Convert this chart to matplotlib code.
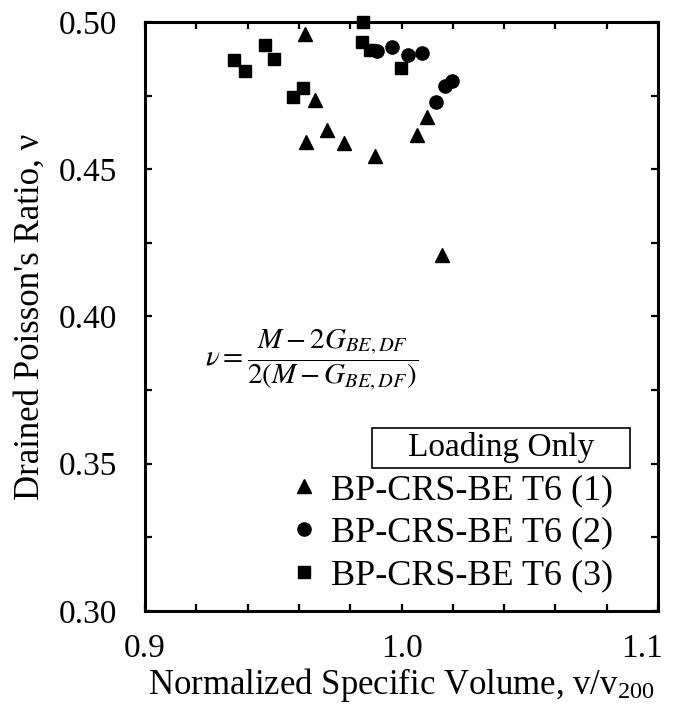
import matplotlib
matplotlib.use("Agg")
import matplotlib.pyplot as plt
from matplotlib.ticker import MultipleLocator
from matplotlib.patches import Rectangle
from matplotlib.transforms import ScaledTranslation

plt.rcParams["font.family"] = ["Liberation Serif", "DejaVu Serif"]
plt.rcParams["mathtext.fontset"] = "stix"

# Series (1): triangles
vol_1 = [0.9624, 0.9663, 0.9628, 0.9710, 0.9776, 0.9897, 1.0060, 1.0100, 1.0158]
nu_1 = [0.4959, 0.4735, 0.4593, 0.4633, 0.4589, 0.4545, 0.4616, 0.4677, 0.4209]

# Series (2): circles
vol_2 = [0.9904, 0.9963, 1.0025, 1.0080, 1.0134, 1.0170, 1.0197]
nu_2 = [0.4902, 0.4915, 0.4888, 0.4895, 0.4728, 0.4783, 0.4800]

# Series (3): squares
vol_3 = [0.9850, 0.9846, 0.9877, 0.9998, 0.9347, 0.9390, 0.9468, 0.9503, 0.9616, 0.9577]
nu_3 = [0.5000, 0.4932, 0.4905, 0.4844, 0.4871, 0.4834, 0.4922, 0.4874, 0.4776, 0.4745]

labels = ["BP-CRS-BE T6 (1)", "BP-CRS-BE T6 (2)", "BP-CRS-BE T6 (3)"]
xticks = [0.9, 1.0, 1.1]
xticklabels = ["0.9", "1.0", "1.1"]

fig = plt.figure(figsize=(6.77, 7.15), dpi=100)
ax = fig.add_axes([0.2142, 0.1455, 0.7578, 0.8237])

ax.plot(vol_1, nu_1, ls="none", marker="^", ms=10, color="black", label=labels[0], clip_on=False)
ax.plot(vol_2, nu_2, ls="none", marker="o", ms=9.5, color="black", label=labels[1], clip_on=False)
ax.plot(vol_3, nu_3, ls="none", marker="s", ms=9, color="black", label=labels[2], clip_on=False)

ax.set_xlim(0.9, 1.1)
ax.set_ylim(0.30, 0.50)
ax.set_xticks(xticks, xticklabels)
ax.xaxis.set_minor_locator(MultipleLocator(0.02))
ax.yaxis.set_major_locator(MultipleLocator(0.05))
ax.yaxis.set_minor_locator(MultipleLocator(0.025))
ax.yaxis.set_major_formatter(lambda v, p: f"{v:.2f}")

for sp in ax.spines.values():
    sp.set_linewidth(2.2)
ax.tick_params(which="both", direction="in", top=True, right=True, length=5, width=1.6)
ax.tick_params(axis="x", which="major", pad=16, labelsize=24)
ax.tick_params(axis="y", which="major", pad=20, labelsize=24)

ax.set_xlabel(r"Normalized Specific Volume, v/v$_{\mathregular{200}}$", fontsize=25, labelpad=2)
ax.set_ylabel("Drained Poisson's Ratio, \u03bd", fontsize=25, labelpad=9)

# keep the last x tick label inside the picture
lab = ax.get_xticklabels()[-1]
lab.set_horizontalalignment("right")
lab.set_transform(lab.get_transform() + ScaledTranslation(0.05, 0, fig.dpi_scale_trans))

# equation
ax.text(0.117, 0.426, r"$\nu = \dfrac{M - 2G_{BE,DF}}{2(M - G_{BE,DF})}$",
        transform=ax.transAxes, ha="left", va="center", fontsize=21)

# legend title box
ax.add_patch(Rectangle((0.4425, 0.2428), 0.503, 0.068, transform=ax.transAxes,
                       fill=False, edgecolor="black", linewidth=1.2))
ax.text(0.694, 0.277, "Loading Only", transform=ax.transAxes,
        ha="center", va="center", fontsize=24)

leg = ax.legend(loc="upper right", bbox_to_anchor=(0.912, 0.233), frameon=False,
                fontsize=26, borderpad=0, borderaxespad=0, handlelength=0.7,
                handletextpad=0.4, labelspacing=0.26, markerscale=1.0)

fig.savefig("out.png", dpi=100)
